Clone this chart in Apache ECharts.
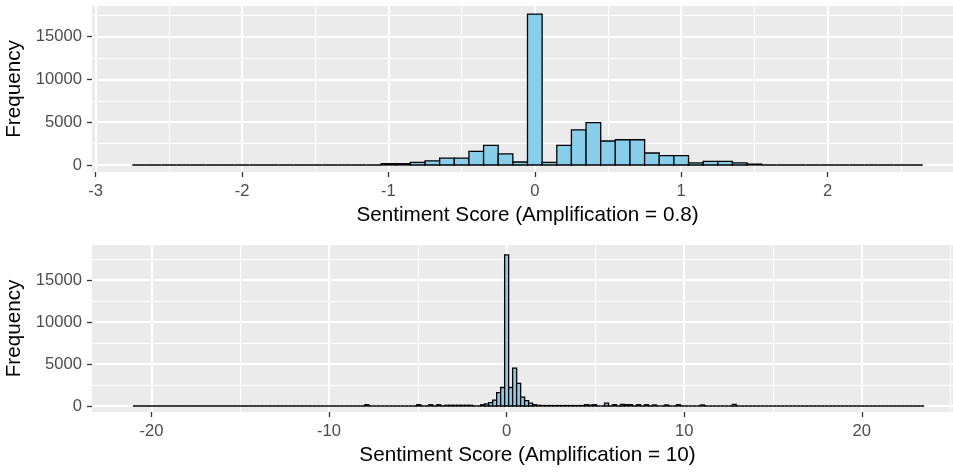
<!DOCTYPE html>
<html><head><meta charset="utf-8">
<script src="https://cdn.jsdelivr.net/npm/echarts@6/dist/echarts.min.js"></script>
<style>html,body{margin:0;padding:0;background:#fff}#c{width:953px;height:473px}</style>
</head><body><div id="c"></div>
<script>
// ---------- data ----------
const topBinWidth = 0.1;
const topFirstCenter = -2.7;
// counts for bins centred at -2.7, -2.6, ..., 2.6
const topCounts = [
  0,0,0,0,0,0,0,0,0,0,0,0,0,0,0,0,0,        // -2.7 .. -1.1
  150,150,300,470,800,800,1600,2300,1300,350, // -1.0 .. -0.1
  17640,                                      // 0.0
  300,2300,4100,4950,2800,2950,2950,1400,1100,1100, // 0.1 .. 1.0
  250,430,430,250,100,                        // 1.1 .. 1.5
  0,0,0,0,0,0,0,0,0,0,0                       // 1.6 .. 2.6
];
const bottomBinWidth = 0.225;
const bottomFirstBin = -93;   // bin index (centre = index * width)
const bottomLastBin = 104;
const bottomBinIdx = [-35,-22,-19,-17,-15,-14,-13,-12,-11,-10,-9,-6,-5,-4,-3,-2,-1,0,1,2,3,4,5,6,7,8,
  9,10,11,12,13,14,15,16,17,18,19,20,21,22,25,27,29,30,31,33,35,37,40,43,49,57];
const bottomBinCounts = [150,150,150,150,80,80,80,80,80,80,80,150,250,400,700,1600,2200,17980,2200,4500,2700,1050,650,350,150,80,
  50,50,50,50,50,50,50,50,50,50,50,150,100,150,350,150,200,150,150,150,150,120,120,150,120,200];
const topXTicks = [-3,-2,-1,0,1,2];
const topXMinor = [-2.5,-1.5,-0.5,0.5,1.5,2.5];
const bottomXTicks = [-20,-10,0,10,20];
const bottomXMinor = [-15,-5,5,15,25];
const yTicks = [0,5000,10000,15000];
const yMinor = [2500,7500,12500,17500];
const topTitle = 'Sentiment Score (Amplification = 0.8)';
const bottomTitle = 'Sentiment Score (Amplification = 10)';
const yTitle = 'Frequency';

// ---------- build bins ----------
const topBins = topCounts.map((c, i) => {
  const ctr = Math.round((topFirstCenter + i * topBinWidth) * 1000) / 1000;
  return [ctr - topBinWidth / 2, ctr + topBinWidth / 2, c];
});
const bottomMap = {};
bottomBinIdx.forEach((k, i) => { bottomMap[k] = bottomBinCounts[i]; });
const bottomBins = [];
for (let k = bottomFirstBin; k <= bottomLastBin; k++) {
  const ctr = k * bottomBinWidth;
  bottomBins.push([ctr - bottomBinWidth / 2, ctr + bottomBinWidth / 2, bottomMap[k] || 0]);
}

// ---------- chart ----------
const F = '"Liberation Sans", Arial, sans-serif';
function renderBin(params, api) {
  const p0 = api.coord([api.value(0), 0]);
  const p1 = api.coord([api.value(1), api.value(2)]);
  return {
    type: 'rect',
    shape: { x: p0[0], y: p1[1], width: p1[0] - p0[0], height: p0[1] - p1[1] },
    style: { fill: '#87CEEB', stroke: '#000', lineWidth: 1.3 }
  };
}
function xMain(g, min, max, ticks, name) {
  return {
    type: 'value', gridIndex: g, min, max, position: 'bottom',
    axisLine: { show: false, onZero: false },
    axisTick: { show: true, length: 5, customValues: ticks, lineStyle: { color: '#333333', width: 1.3 } },
    axisLabel: { customValues: ticks, formatter: v => String(v), color: '#4D4D4D', fontSize: 16.6, fontFamily: F, margin: 11 },
    splitLine: { show: true, lineStyle: { color: '#FFFFFF', width: 2 } },
    name, nameLocation: 'middle', nameGap: 33,
    nameTextStyle: { color: '#000', fontSize: 20.7, fontFamily: F }
  };
}
function xMinor(g, min, max, ticks) {
  return {
    type: 'value', gridIndex: g, min, max, position: 'top',
    axisLine: { show: false, onZero: false },
    axisTick: { show: false, customValues: ticks },
    axisLabel: { show: false, customValues: ticks },
    splitLine: { show: true, lineStyle: { color: '#FFFFFF', width: 1 } }
  };
}
function yMain(g, min, max) {
  return {
    type: 'value', gridIndex: g, min, max, position: 'left',
    axisLine: { show: false, onZero: false },
    axisTick: { show: true, length: 5, customValues: yTicks, lineStyle: { color: '#333333', width: 1.3 } },
    axisLabel: { customValues: yTicks, formatter: v => String(v), color: '#4D4D4D', fontSize: 16.6, fontFamily: F, margin: 10 },
    splitLine: { show: true, lineStyle: { color: '#FFFFFF', width: 2 } },
    name: yTitle, nameLocation: 'middle', nameGap: 54, nameRotate: 90,
    nameTextStyle: { color: '#000', fontSize: 20.7, fontFamily: F }
  };
}
function yMinorAxis(g, min, max) {
  return {
    type: 'value', gridIndex: g, min, max, position: 'right',
    axisLine: { show: false, onZero: false },
    axisTick: { show: false, customValues: yMinor },
    axisLabel: { show: false, customValues: yMinor },
    splitLine: { show: true, lineStyle: { color: '#FFFFFF', width: 1 } }
  };
}
const chart = echarts.init(document.getElementById('c'), null, { renderer: 'canvas' });
chart.setOption({
  animation: false,
  backgroundColor: '#FFFFFF',
  grid: [
    { left: 92, right: -10, top: 6, height: 166, show: true, backgroundColor: '#EBEBEB', borderWidth: 0, containLabel: false, outerBoundsMode: 'none' },
    { left: 92, right: -10, top: 245, height: 167, show: true, backgroundColor: '#EBEBEB', borderWidth: 0, containLabel: false, outerBoundsMode: 'none' }
  ],
  xAxis: [
    xMain(0, -3.025, 2.925, topXTicks, topTitle),
    xMinor(0, -3.025, 2.925, topXMinor),
    xMain(1, -23.35, 25.7, bottomXTicks, bottomTitle),
    xMinor(1, -23.35, 25.7, bottomXMinor)
  ],
  yAxis: [
    yMain(0, -820, 18580),
    yMinorAxis(0, -820, 18580),
    yMain(1, -714, 19167),
    yMinorAxis(1, -714, 19167)
  ],
  series: [
    { type: 'custom', xAxisIndex: 0, yAxisIndex: 0, data: topBins, renderItem: renderBin, encode: { x: [0, 1], y: 2 }, clip: false },
    { type: 'custom', xAxisIndex: 2, yAxisIndex: 2, data: bottomBins, renderItem: renderBin, encode: { x: [0, 1], y: 2 }, clip: false }
  ]
});
</script></body></html>
